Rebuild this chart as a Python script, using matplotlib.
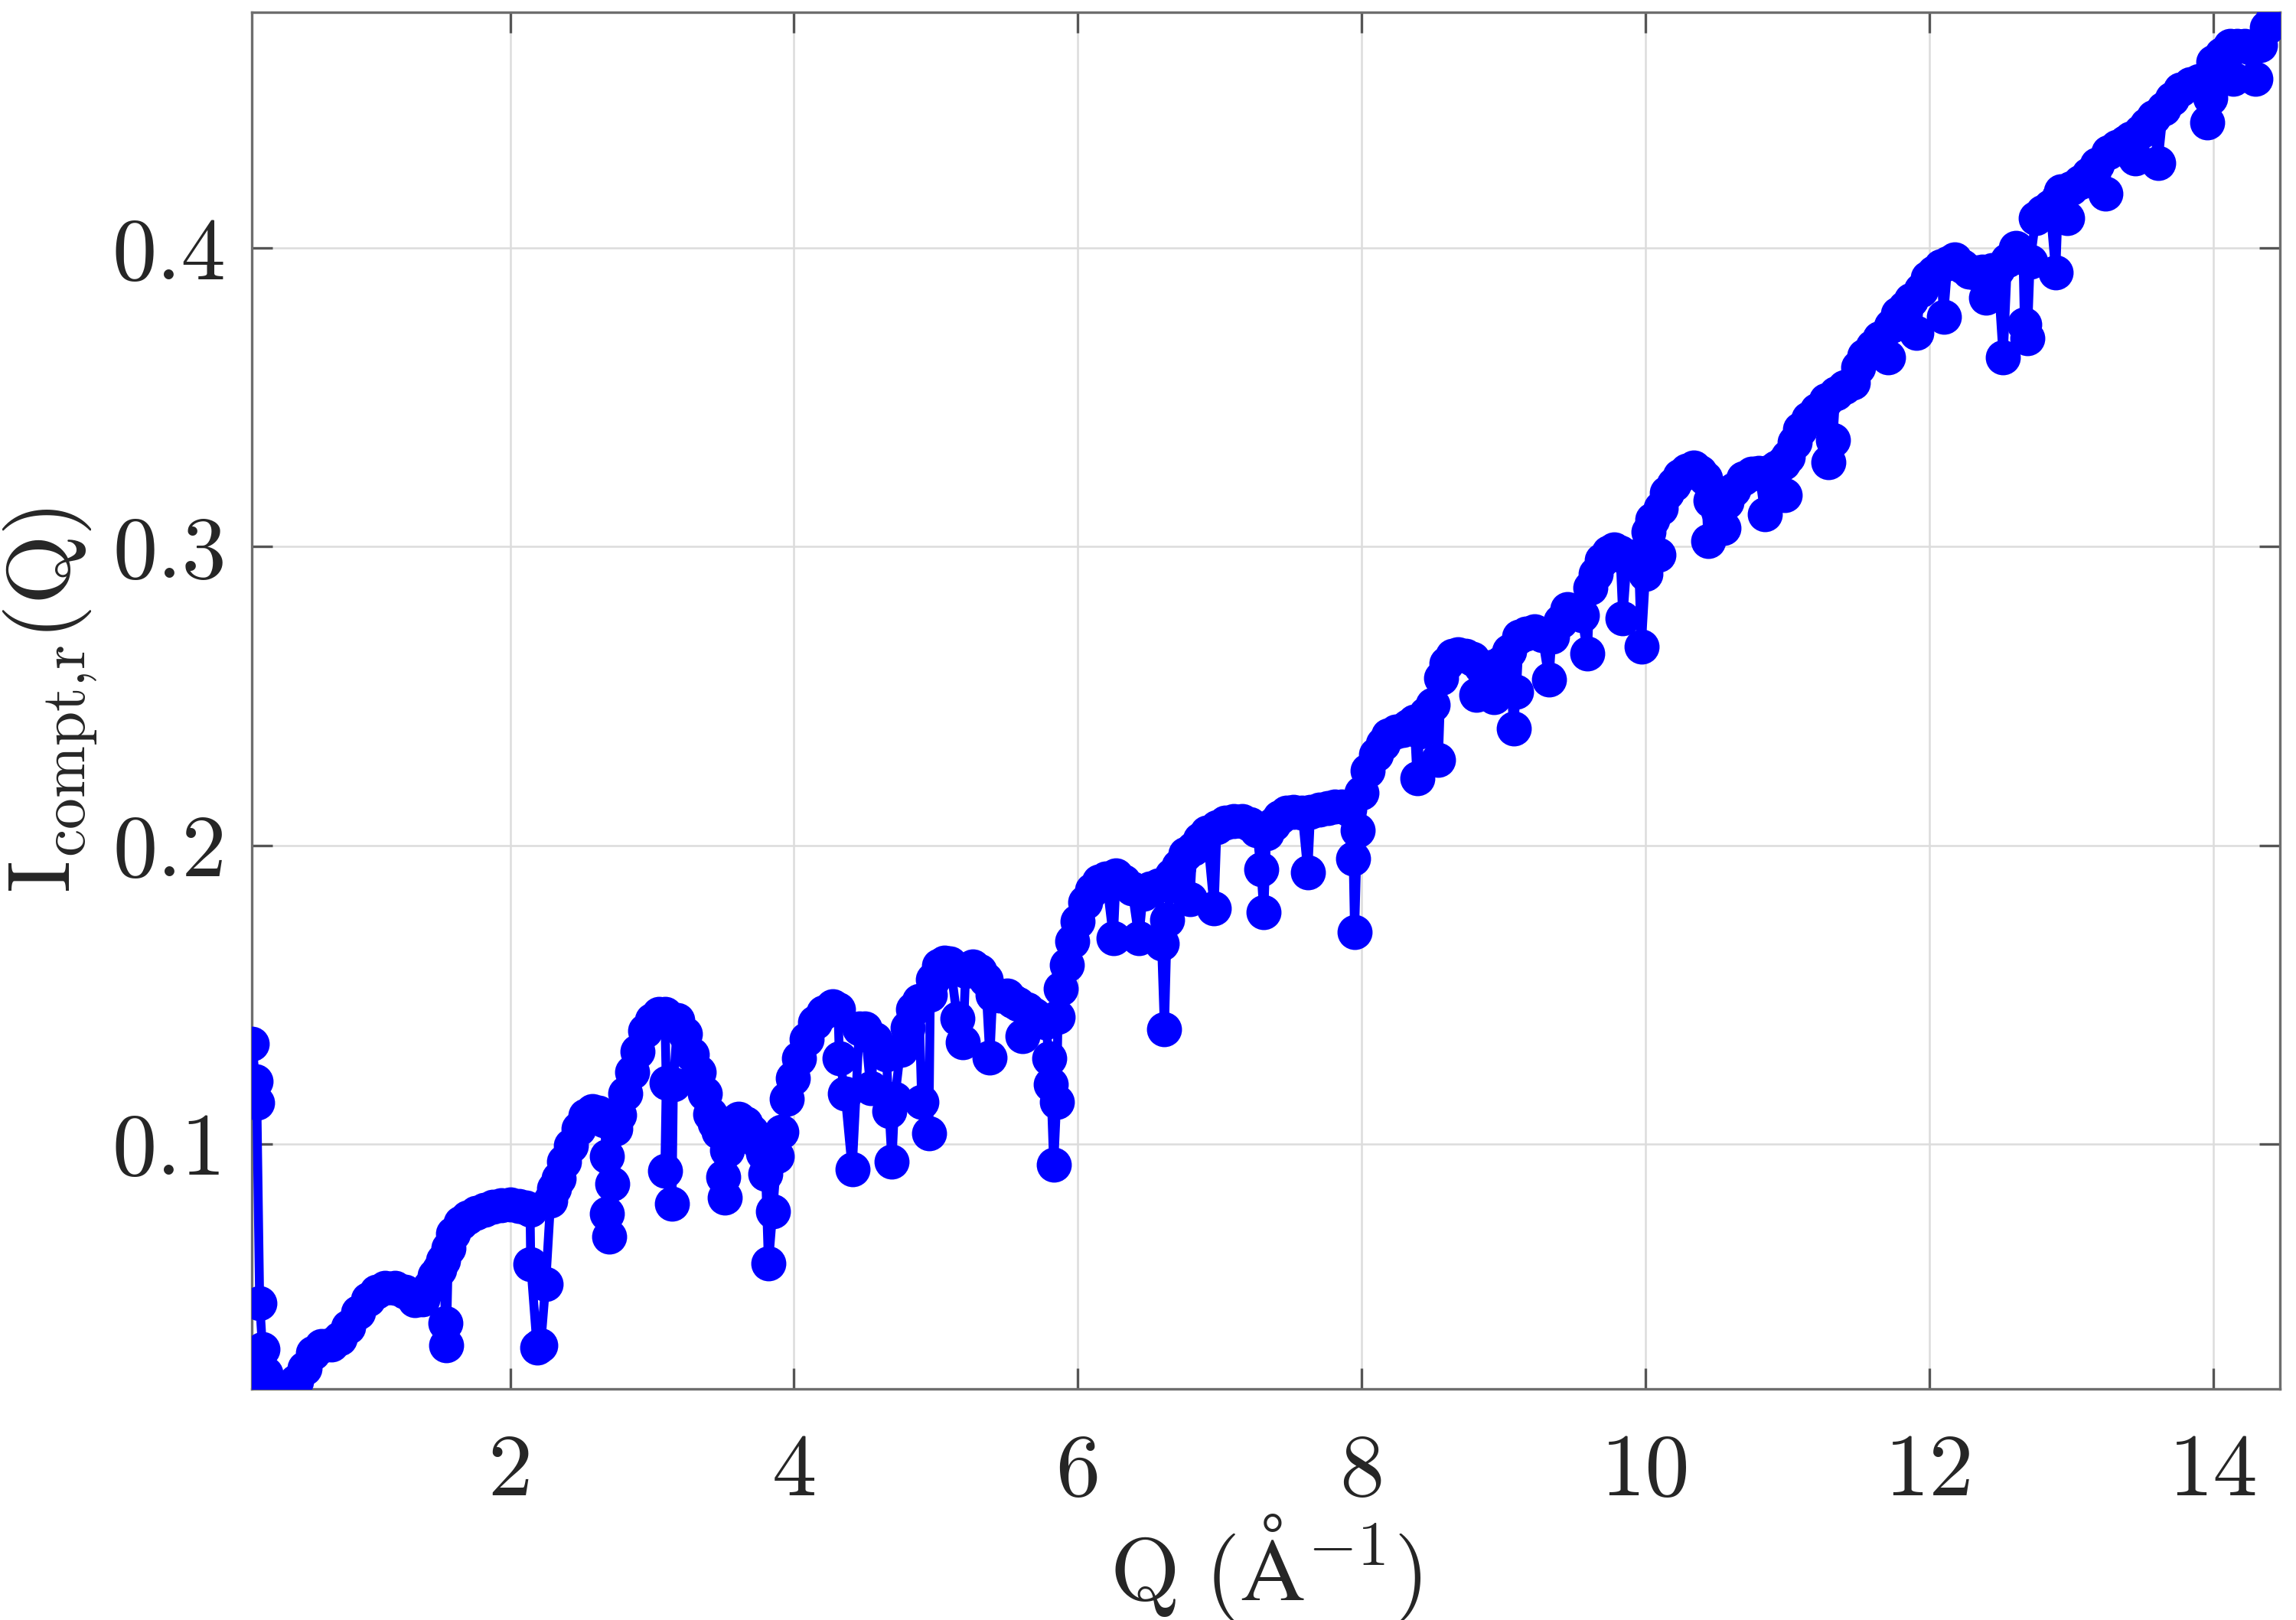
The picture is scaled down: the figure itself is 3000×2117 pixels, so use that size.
import numpy as np
import matplotlib
matplotlib.use("Agg")
from matplotlib import pyplot as plt

# Q values (1/Angstrom), in drawing order
Q = [0.182, 0.205, 0.215, 0.235, 0.255, 0.275, 0.30, 0.34, 0.38, 0.43,
     0.49, 0.55, 0.61, 0.67, 0.74, 0.80, 0.86, 0.93, 1.00, 1.06,
     1.12, 1.19, 1.26, 1.33, 1.38, 1.43, 1.47, 1.50, 1.53, 1.545,
     1.55, 1.565, 1.60, 1.65, 1.70, 1.76, 1.82, 1.88, 1.94, 2.00,
     2.06, 2.11, 2.14, 2.145, 2.19, 2.215, 2.25, 2.285, 2.31, 2.34,
     2.38, 2.43, 2.48, 2.53, 2.58, 2.62, 2.66, 2.68, 2.68, 2.70,
     2.72, 2.74, 2.77, 2.81, 2.86, 2.90, 2.95, 3.00, 3.05, 3.09,
     3.10, 3.09, 3.14, 3.15, 3.18, 3.23, 3.28, 3.33, 3.37, 3.41,
     3.44, 3.47, 3.50, 3.51, 3.53, 3.56, 3.61, 3.66, 3.70, 3.74,
     3.78, 3.80, 3.82, 3.85, 3.88, 3.91, 3.95, 3.99, 4.035, 4.09,
     4.15, 4.21, 4.27, 4.31, 4.32, 4.36, 4.41, 4.46, 4.50, 4.54,
     4.57, 4.61, 4.65, 4.67, 4.69, 4.71, 4.75, 4.80, 4.84, 4.88,
     4.90, 4.95, 4.96, 4.98, 5.02, 5.06, 5.10, 5.15, 5.19, 5.21,
     5.26, 5.31, 5.35, 5.38, 5.40, 5.45, 5.50, 5.54, 5.58, 5.61,
     5.64, 5.69, 5.73, 5.77, 5.80, 5.81, 5.83, 5.85, 5.86, 5.88,
     5.92, 5.96, 6.00, 6.05, 6.10, 6.15, 6.20, 6.25, 6.27, 6.32,
     6.38, 6.43, 6.46, 6.51, 6.57, 6.59, 6.61, 6.63, 6.66, 6.71,
     6.76, 6.79, 6.81, 6.86, 6.91, 6.96, 6.98, 7.04, 7.10, 7.16,
     7.21, 7.26, 7.29, 7.31, 7.33, 7.38, 7.42, 7.47, 7.52, 7.58,
     7.62, 7.64, 7.70, 7.76, 7.81, 7.86, 7.91, 7.94, 7.95, 7.97,
     8.00, 8.04, 8.10, 8.15, 8.19, 8.24, 8.29, 8.33, 8.37, 8.39,
     8.41, 8.45, 8.50, 8.54, 8.56, 8.60, 8.64, 8.68, 8.73, 8.78,
     8.81, 8.84, 8.90, 8.93, 8.96, 8.99, 9.04, 9.07, 9.09, 9.11,
     9.16, 9.22, 9.27, 9.32, 9.34, 9.40, 9.45, 9.50, 9.55, 9.59,
     9.61, 9.65, 9.69, 9.74, 9.78, 9.82, 9.84, 9.87, 9.92, 9.95,
     9.97, 10.00, 10.02, 10.05, 10.09, 10.11, 10.15, 10.20, 10.24, 10.29,
     10.34, 10.38, 10.42, 10.44, 10.46, 10.51, 10.55, 10.57, 10.62, 10.69,
     10.75, 10.80, 10.84, 10.87, 10.92, 10.97, 10.98, 11.00, 11.05, 11.09,
     11.15, 11.21, 11.27, 11.29, 11.32, 11.34, 11.40, 11.46, 11.50, 11.54,
     11.60, 11.65, 11.71, 11.73, 11.78, 11.83, 11.87, 11.91, 11.94, 11.99,
     12.03, 12.08, 12.10, 12.13, 12.18, 12.23, 12.28, 12.32, 12.37, 12.40,
     12.44, 12.48, 12.52, 12.55, 12.61, 12.66, 12.67, 12.69, 12.71, 12.75,
     12.80, 12.85, 12.89, 12.91, 12.93, 12.97, 13.00, 13.06, 13.12, 13.18,
     13.24, 13.26, 13.32, 13.38, 13.42, 13.45, 13.49, 13.53, 13.58, 13.61,
     13.65, 13.71, 13.77, 13.84, 13.90, 13.96, 13.98, 14.00, 14.06, 14.12,
     14.14, 14.17, 14.22, 14.27, 14.30, 14.33, 14.38, 14.42, 14.46]

# I_compt,r(Q) values, same order
I = [0.1335, 0.1211, 0.1138, 0.0468, 0.0314, 0.0232, 0.0190, 0.0173, 0.0172, 0.0185,
     0.0205, 0.0250, 0.0300, 0.0322, 0.0328, 0.0350, 0.0388, 0.0435, 0.0480, 0.0505,
     0.0518, 0.0517, 0.0505, 0.0478, 0.0480, 0.0520, 0.0560, 0.0580, 0.0610, 0.0400,
     0.0327, 0.0650, 0.0700, 0.0735, 0.0755, 0.0770, 0.0780, 0.0790, 0.0795, 0.0797,
     0.0793, 0.0788, 0.0780, 0.0597, 0.0318, 0.0325, 0.0530, 0.0810, 0.0850, 0.0885,
     0.0940, 0.0995, 0.1050, 0.1095, 0.1110, 0.1105, 0.1080, 0.0960, 0.0766, 0.0690,
     0.0867, 0.1050, 0.1096, 0.1170, 0.1240, 0.1310, 0.1380, 0.1415, 0.1435, 0.1435,
     0.1206, 0.0910, 0.0800, 0.1200, 0.1415, 0.1370, 0.1300, 0.1240, 0.1170, 0.1100,
     0.1070, 0.1040, 0.0890, 0.0820, 0.0980, 0.1070, 0.1085, 0.1070, 0.1040, 0.1010,
     0.0970, 0.0900, 0.0600, 0.0774, 0.0960, 0.1040, 0.1150, 0.1220, 0.1287, 0.1350,
     0.1406, 0.1440, 0.1460, 0.1450, 0.1287, 0.1168, 0.0915, 0.1387, 0.1387, 0.1186,
     0.1350, 0.1320, 0.1300, 0.1110, 0.0940, 0.1150, 0.1314, 0.1390, 0.1450, 0.1480,
     0.1140, 0.1035, 0.1500, 0.1550, 0.1598, 0.1607, 0.1605, 0.1420, 0.1340, 0.1580,
     0.1595, 0.1580, 0.1550, 0.1290, 0.1500, 0.1497, 0.1497, 0.1480, 0.1470, 0.1360,
     0.1450, 0.1433, 0.1420, 0.1406, 0.1287, 0.1200, 0.0930, 0.1140, 0.1424, 0.1520,
     0.1600, 0.1680, 0.1745, 0.1810, 0.1850, 0.1880, 0.1890, 0.1690, 0.1900, 0.1880,
     0.1855, 0.1690, 0.1837, 0.1855, 0.1865, 0.1670, 0.1385, 0.1750, 0.1900, 0.1929,
     0.1970, 0.1820, 0.1990, 0.2020, 0.2044, 0.1790, 0.2060, 0.2075, 0.2080, 0.2080,
     0.2070, 0.2050, 0.1920, 0.1775, 0.2040, 0.2070, 0.2093, 0.2110, 0.2112, 0.2110,
     0.1910, 0.2112, 0.2120, 0.2125, 0.2130, 0.2130, 0.2120, 0.1956, 0.1710, 0.2050,
     0.2176, 0.2250, 0.2304, 0.2340, 0.2368, 0.2380, 0.2386, 0.2400, 0.2414, 0.2225,
     0.2380, 0.2440, 0.2470, 0.2285, 0.2560, 0.2610, 0.2635, 0.2640, 0.2634, 0.2625,
     0.2505, 0.2600, 0.2597, 0.2496, 0.2605, 0.2615, 0.2650, 0.2392, 0.2515, 0.2698,
     0.2710, 0.2716, 0.2705, 0.2556, 0.2698, 0.2750, 0.2790, 0.2780, 0.2770, 0.2643,
     0.2863, 0.2910, 0.2954, 0.2980, 0.2990, 0.2980, 0.2760, 0.2960, 0.2965, 0.2970,
     0.2666, 0.2910, 0.3050, 0.3090, 0.2973, 0.3130, 0.3180, 0.3210, 0.3238, 0.3255,
     0.3266, 0.3250, 0.3230, 0.3018, 0.3156, 0.3120, 0.3064, 0.3150, 0.3190, 0.3230,
     0.3245, 0.3247, 0.3110, 0.3250, 0.3266, 0.3280, 0.3174, 0.3300, 0.3350, 0.3394,
     0.3430, 0.3458, 0.3490, 0.3284, 0.3357, 0.3513, 0.3535, 0.3550, 0.3600, 0.3640,
     0.3670, 0.3698, 0.3634, 0.3740, 0.3780, 0.3800, 0.3826, 0.3716, 0.3860, 0.3900,
     0.3918, 0.3940, 0.3770, 0.3950, 0.3963, 0.3940, 0.3920, 0.3918, 0.3920, 0.3835,
     0.3927, 0.3930, 0.3634, 0.3960, 0.4000, 0.3970, 0.3744, 0.3698, 0.3954, 0.4100,
     0.4120, 0.4140, 0.3918, 0.4170, 0.4190, 0.4100, 0.4200, 0.4220, 0.4247, 0.4280,
     0.4183, 0.4320, 0.4340, 0.4355, 0.4366, 0.4300, 0.4390, 0.4412, 0.4440, 0.4284,
     0.4467, 0.4500, 0.4530, 0.4550, 0.4560, 0.4421, 0.4504, 0.4623, 0.4650, 0.4678,
     0.4568, 0.4678, 0.4678, 0.4670, 0.4568, 0.4680, 0.4740, 0.4770, 0.4797]

x_ticks = [2, 4, 6, 8, 10, 12, 14]
x_tick_labels = ['2', '4', '6', '8', '10', '12', '14']
y_ticks = [0.1, 0.2, 0.3, 0.4]
y_tick_labels = ['0.1', '0.2', '0.3', '0.4']

plt.rcParams['font.family'] = 'serif'
plt.rcParams['font.serif'] = ['cmr10', 'DejaVu Serif']
plt.rcParams['mathtext.fontset'] = 'cm'
plt.rcParams['axes.formatter.use_mathtext'] = True

fig = plt.figure(figsize=(10, 7.057), dpi=300)
ax = fig.add_axes([0.1097, 0.1427, 0.8833, 0.8497])

ax.plot(Q, I, color='#0000ff', linewidth=2.8, marker='o', markersize=10,
        markerfacecolor='#0000ff', markeredgecolor='#0000ff', zorder=3)

ax.set_xlim(0.18, 14.47)
ax.set_ylim(0.018, 0.479)
ax.set_xticks(x_ticks)
ax.set_xticklabels(x_tick_labels)
ax.set_yticks(y_ticks)
ax.set_yticklabels(y_tick_labels)

# matlab-like box with inward ticks on all sides
ax.grid(True, color='#dcdcdc', linewidth=0.6, zorder=0)
ax.set_axisbelow(True)
for sp in ax.spines.values():
    sp.set_color('#6e6e6e')
    sp.set_linewidth(0.8)
ax.tick_params(direction='in', length=6.5, width=0.8, color='#555555',
               top=True, right=True, labelsize=28, labelcolor='#262626')
ax.tick_params(axis='x', pad=14)
ax.tick_params(axis='y', pad=8)

ax.set_xlabel(r'$\mathrm{Q\ (\AA^{-1})}$', fontsize=28, color='#262626', labelpad=0)
ax.set_ylabel(r'$\mathrm{I_{compt{,}r}(Q)}$', fontsize=28, color='#262626', labelpad=4)

plt.savefig('out.png', dpi=300)
